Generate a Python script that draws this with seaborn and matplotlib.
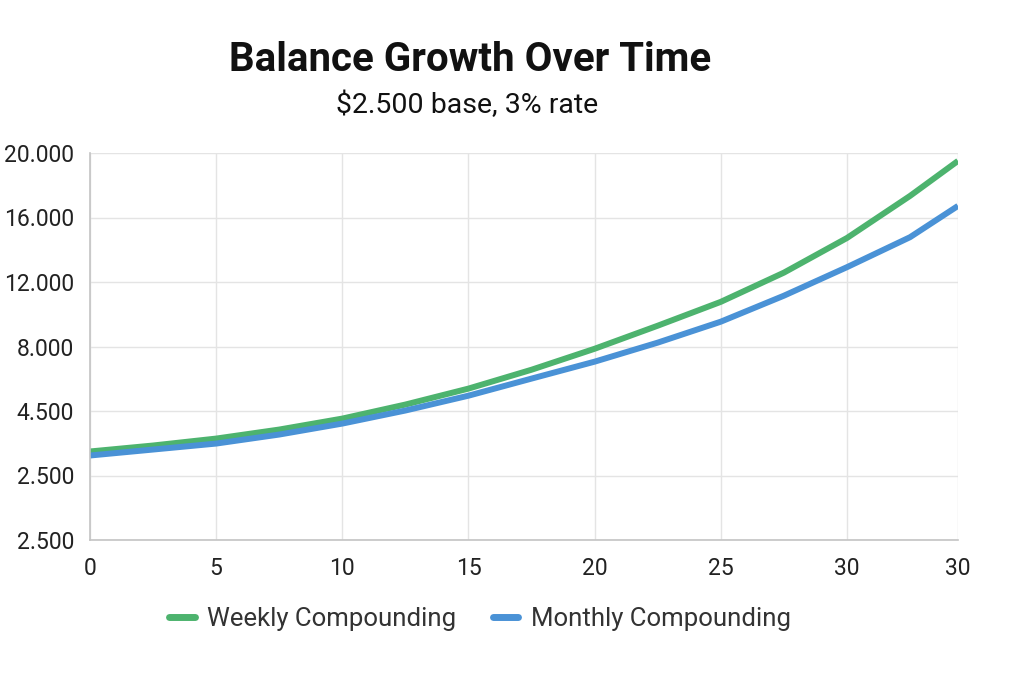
import numpy as np
import pandas as pd
import seaborn as sns
import matplotlib.pyplot as plt
from matplotlib.lines import Line2D

# values (axis units)
years = [0, 2.5, 5, 7.5, 10, 12.5, 15, 17.5, 20, 22.5, 25, 27.5, 30, 32.5, 34.4]
weekly = [1490, 1860, 2290, 2850, 3530, 4400, 5390, 6560, 7860, 9290, 10770, 12580, 14730, 17340, 19510]
monthly = [1240, 1610, 1980, 2540, 3220, 4030, 4950, 6010, 7060, 8240, 9540, 11150, 12920, 14780, 16720]

y_ticks = [-4000, 0, 4000, 8000, 12000, 16000, 20000]
y_labels = ["2.500", "2.500", "4.500", "8.000", "12.000", "16.000", "20.000"]
x_ticks = [0, 5, 10, 15, 20, 25, 30, 34.4]
x_labels = ["0", "5", "10", "15", "20", "25", "30", "30"]

series_names = ["Weekly Compounding", "Monthly Compounding"]
colors = {"Weekly Compounding": "#4DB36E", "Monthly Compounding": "#4A92D6"}

df = pd.concat([
    pd.DataFrame({"year": years, "balance": weekly, "series": series_names[0]}),
    pd.DataFrame({"year": years, "balance": monthly, "series": series_names[1]}),
])

sns.set_theme(style="whitegrid")
plt.rcParams['font.family'] = ['Roboto', 'DejaVu Sans']

fig = plt.figure(figsize=(10.24, 6.83), dpi=100)
ax = fig.add_axes([90 / 1024, 1 - 540 / 683, (958 - 90) / 1024, (540 - 153) / 683])

sns.lineplot(data=df, x="year", y="balance", hue="series", palette=colors,
             hue_order=series_names, linewidth=4.3, legend=False, ax=ax,
             solid_capstyle="butt", solid_joinstyle="round")

ax.set_xlim(0, 34.4)
ax.set_ylim(-4000, 20000)
ax.set_xticks(x_ticks)
ax.set_xticklabels(x_labels)
ax.set_yticks(y_ticks)
ax.set_yticklabels(y_labels)
ax.set_xlabel("")
ax.set_ylabel("")
ax.tick_params(axis="both", length=0, labelsize=16.5, colors="#222222")
ax.tick_params(axis="x", pad=12)
ax.tick_params(axis="y", pad=11.5)
ax.grid(True, color="#e4e4e4", linewidth=1)
for s in ["top", "right"]:
    ax.spines[s].set_visible(False)
for s in ["left", "bottom"]:
    ax.spines[s].set_color("#c4c4c4")
    ax.spines[s].set_linewidth(1.2)

fig.text(470 / 1024, 1 - 60 / 683, "Balance Growth Over Time", ha="center", va="center",
         fontsize=29, fontweight="bold", color="#111111")
fig.text(467 / 1024, 1 - 105 / 683, "$2.500 base, 3% rate", ha="center", va="center",
         fontsize=20.5, color="#111111")

handles = [Line2D([0], [0], color=colors[n], lw=5, solid_capstyle="round") for n in series_names]
fig.legend(handles, series_names, loc="center", bbox_to_anchor=(480 / 1024, 1 - 619 / 683),
           ncol=2, frameon=False, fontsize=18.5, handlelength=1.0, columnspacing=1.4,
           handletextpad=0.5, labelcolor="#333333")

fig.savefig("out.png", dpi=100)
